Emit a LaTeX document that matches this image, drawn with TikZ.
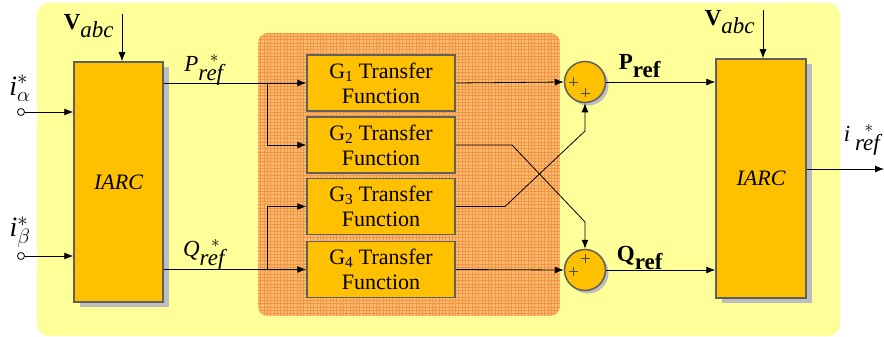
\documentclass[tikz,border=0pt]{standalone}
\usepackage{fontspec}
\setmainfont{LiberationSerif}[Extension=.ttf, UprightFont=*-Regular, BoldFont=*-Bold,
  ItalicFont=*-Italic, BoldItalicFont=*-BoldItalic]
\usetikzlibrary{arrows.meta,shadows}

\definecolor{bgyellow}{HTML}{FFFF99}
\definecolor{boxfill}{HTML}{FFC000}
\definecolor{boxedge}{HTML}{5F5F5F}
\definecolor{shade}{HTML}{BDBDBD}
\definecolor{hatchbg}{HTML}{FCBB72}
\definecolor{hatchline}{HTML}{F29642}
\definecolor{plusgray}{HTML}{4A4A62}

\tikzset{
  shadowed/.style={drop shadow={shadow xshift=6pt, shadow yshift=-5pt, fill=shade, opacity=1}},
  blk/.style={draw=boxedge, line width=1.5pt, fill=boxfill, inner sep=0pt, shadowed},
  gbox/.style={draw=boxedge, line width=1.5pt, fill=boxfill, inner sep=0pt,
    minimum width=148pt, minimum height=56pt, align=center,
    font=\fontsize{22}{25}\selectfont},
  sumc/.style={circle, draw=boxedge, line width=1.5pt, fill=boxfill, minimum size=41pt,
    inner sep=0pt, drop shadow={shadow xshift=3pt, shadow yshift=-3pt, fill=shade, opacity=1}},
  arr/.style={-{Latex[length=9pt,width=7pt]}, line width=0.8pt},
  port/.style={circle, draw, line width=0.8pt, fill=white, minimum size=7pt, inner sep=0pt},
  lbl/.style={inner sep=0pt, font=\fontsize{23}{26}\selectfont},
  plusmark/.style={draw=plusgray, line width=0.9pt},
}

\begin{document}
\begin{tikzpicture}[x=1pt, y=-1pt]
  \useasboundingbox (0,0) rectangle (884,337);
  \fill[white] (0,0) rectangle (884,337);

  % pale yellow panel
  \fill[bgyellow, rounded corners=12pt] (37,3) rectangle (840,336);

  % hatched orange region behind the transfer functions
  \begin{scope}
    \clip[rounded corners=10pt] (258,33) rectangle (560,316);
    \fill[hatchbg] (258,33) rectangle (560,316);
    \draw[hatchline, line width=0.5pt, step=3.3pt] (258,33) grid (560,316);
  \end{scope}

  % blocks
  \node[blk, minimum width=89pt, minimum height=240pt] (iarcL) at (118.5,182)
    {\fontsize{22}{24}\selectfont\itshape IARC};
  \node[blk, minimum width=90pt, minimum height=239pt] (iarcR) at (761,178.5)
    {\fontsize{22}{24}\selectfont\itshape IARC};

  \node[gbox] (g1) at (381,83)    {G\textsubscript{1} Transfer\\Function};
  \node[gbox] (g2) at (381,145)   {G\textsubscript{2} Transfer\\Function};
  \node[gbox] (g3) at (381,206.5) {G\textsubscript{3} Transfer\\Function};
  \node[gbox] (g4) at (381,269.5) {G\textsubscript{4} Transfer\\Function};

  % summing junctions with their sign marks
  \node[sumc] (s1) at (585,82) {};
  \node[sumc] (s2) at (585,270) {};
  \foreach \p in {(573,82), (585,93), (585,258), (573,271)}
    \path[plusmark] \p +(-4.5,0) -- +(4.5,0) +(0,-4.5) -- +(0,4.5);

  % inputs
  \node[port] (ia) at (21,112) {};
  \node[port] (ib) at (21,256) {};
  \draw[arr] (ia) -- (ia -| iarcL.west);
  \draw[arr] (ib) -- (ib -| iarcL.west);

  \coordinate (vl) at (122,14);
  \coordinate (vr) at (763,10);
  \draw[arr] (vl) -- (vl |- iarcL.north);
  \draw[arr] (vr) -- (vr |- iarcR.north);

  % P and Q references fanning out to the transfer functions
  \coordinate (pb) at (267,83);
  \coordinate (qb) at (267,269.5);
  \draw[arr] (iarcL.east |- g1) -- (g1.west);
  \draw[arr] (pb) |- (g2.west);
  \draw[arr] (iarcL.east |- g4) -- (g4.west);
  \draw[arr] (qb) |- (g3.west);

  % transfer functions to the summing junctions
  \coordinate (g2k) at (512,145);
  \coordinate (g2d) at (585,222);
  \coordinate (g3k) at (505,206.5);
  \coordinate (g3d) at (585,131);
  \draw[arr] (g1.east) -- (s1.west);
  \draw[arr] (g4.east) -- (s2.west);
  \draw[arr] (g2.east) -- (g2k) -- (g2d) -- (s2.north);
  \draw[arr] (g3.east) -- (g3k) -- (g3d) -- (s1.south);

  % summed references to the right block
  \draw[arr] (s1.east) -- (s1.east -| iarcR.west);
  \draw[arr] (s2.east) -- (s2.east -| iarcR.west);

  % output
  \coordinate (out) at (884,169);
  \draw[arr] (iarcR.east |- out) -- (out);

  % labels
  \node[lbl] at (89,26) {$\textbf{V}_{\textit{abc}}$};
  \node[lbl] at (730,22) {$\textbf{V}_{\textit{abc}}$};
  \node[lbl, font=\fontsize{28}{30}\selectfont] at (20,88) {$\textit{i}^{*}_{\alpha}$};
  \node[lbl, font=\fontsize{28}{30}\selectfont] at (20,232) {$\textit{i}^{*}_{\beta}$};
  \node[lbl] at (204,70) {$\textit{P}^{\,\,\,\,*}_{\textit{ref}}$};
  \node[lbl] at (204,255) {$\textit{Q}^{\,\,\,\,*}_{\textit{ref}}$};
  \node[lbl] at (640,66) {$\textbf{P}_{\textbf{ref}}$};
  \node[lbl] at (640,258) {$\textbf{Q}_{\textbf{ref}}$};
  \node[lbl] at (862,140) {$\textit{i}^{\,\,\,\,\,*}_{\;\textit{ref}}$};
\end{tikzpicture}
\end{document}
